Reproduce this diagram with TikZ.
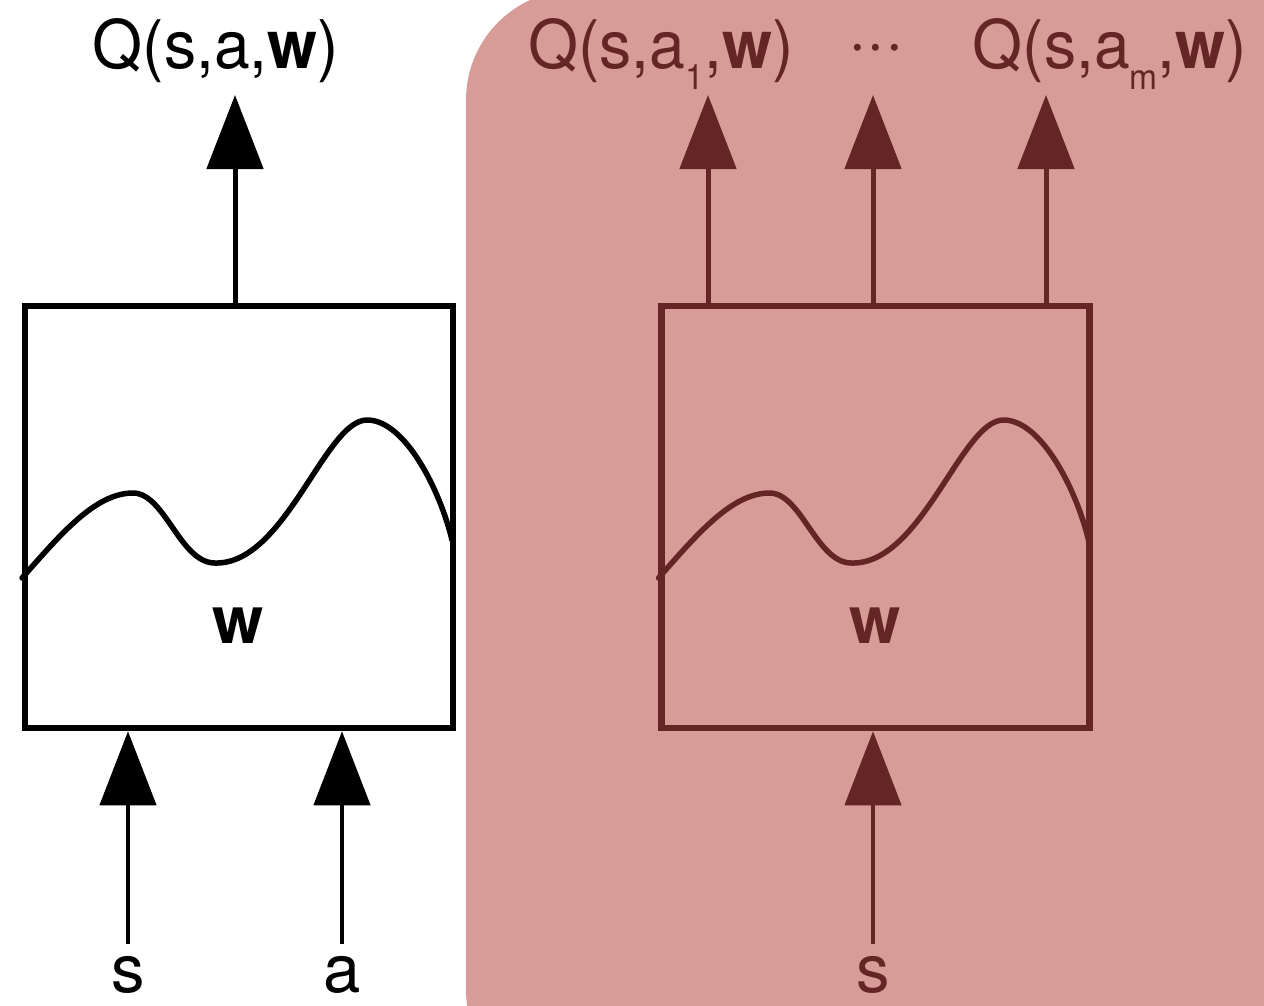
\documentclass[tikz,border=0pt]{standalone}
\usepackage{fontspec}
\setmainfont{TeX Gyre Heros}
\usetikzlibrary{arrows.meta}
\definecolor{pinkbg}{RGB}{215,155,152}
\definecolor{darkred}{RGB}{100,38,37}
\newcommand\subtxt[1]{\raisebox{-21pt}{\fontsize{35}{40}\selectfont #1}}
\begin{document}
\begin{tikzpicture}[x=1pt,y=-1pt,
  lbl/.style={inner sep=0pt, anchor=base, font=\fontsize{67}{72}\selectfont},
  wlbl/.style={inner sep=0pt, anchor=base, font=\fontsize{66}{72}\selectfont\bfseries},
  qbox/.style={draw, line width=6.5pt, minimum width=428pt, minimum height=422pt, inner sep=0pt},
  uparr/.style={line width=5pt, -{Triangle[length=74pt,width=56pt]}},
  inarr/.style={line width=4.5pt, -{Triangle[length=74pt,width=56pt]}},
  wave/.style={line width=5.5pt, line cap=round}
]
\useasboundingbox (0,0) rectangle (1264,1005);
\fill[pinkbg, rounded corners=110pt] (466,-10) rectangle (1400,1100);

% ---------- left network ----------
\node[qbox] (boxL) at (239,517) {};
\node[wlbl] (wL) at (238,643) {w};
\node[lbl] (qL) at (216,68) {\scalebox{0.96}[1]{Q(s,a,\textbf{w})}};
\coordinate (tL) at (235,95);
\draw[uparr] (tL |- boxL.north) -- (tL);
\node[lbl] (sL) at (128,992) {s};
\node[lbl] (aL) at (342,992) {a};
\coordinate (sLb) at (128,944);
\coordinate (aLb) at (342,944);
\draw[inarr] (sLb) -- (sLb |- boxL.south);
\draw[inarr] (aLb) -- (aLb |- boxL.south);

% ---------- right network ----------
\begin{scope}[darkred]
\node[qbox, draw=darkred] (boxR) at (875.5,517) {};
\node[wlbl, text=darkred] (wR) at (875.5,643) {w};
\node[lbl, text=darkred] (q1) at (661,68) {\scalebox{0.96}[1]{Q(s,a\subtxt{1},\textbf{w})}};
\node[lbl, text=darkred] (qm) at (1110,68) {\scalebox{0.96}[1]{Q(s,a\subtxt{m},\textbf{w})}};
\node[lbl, text=darkred] (dots) at (876,64) {\textperiodcentered\textperiodcentered\textperiodcentered};
\coordinate (t1) at (708,95);
\coordinate (t2) at (873,95);
\coordinate (t3) at (1046,95);
\draw[uparr, darkred] (t1 |- boxR.north) -- (t1);
\draw[uparr, darkred] (t2 |- boxR.north) -- (t2);
\draw[uparr, darkred] (t3 |- boxR.north) -- (t3);
\node[lbl, text=darkred] (sR) at (873,992) {s};
\coordinate (sRb) at (873,944);
\draw[inarr, darkred] (sRb) -- (sRb |- boxR.south);
\end{scope}

% ---------- waves ----------
\foreach \dx/\col in {0/black, 636.5/darkred} {
  \draw[wave, \col, xshift=\dx]
    (22,578) .. controls (60,535) and (95,493) .. (133,493)
             .. controls (165,493) and (180,563) .. (215,563)
             .. controls (285,565) and (325,420) .. (367,420)
             .. controls (405,420) and (440,490) .. (452,540);
}
\end{tikzpicture}
\end{document}
